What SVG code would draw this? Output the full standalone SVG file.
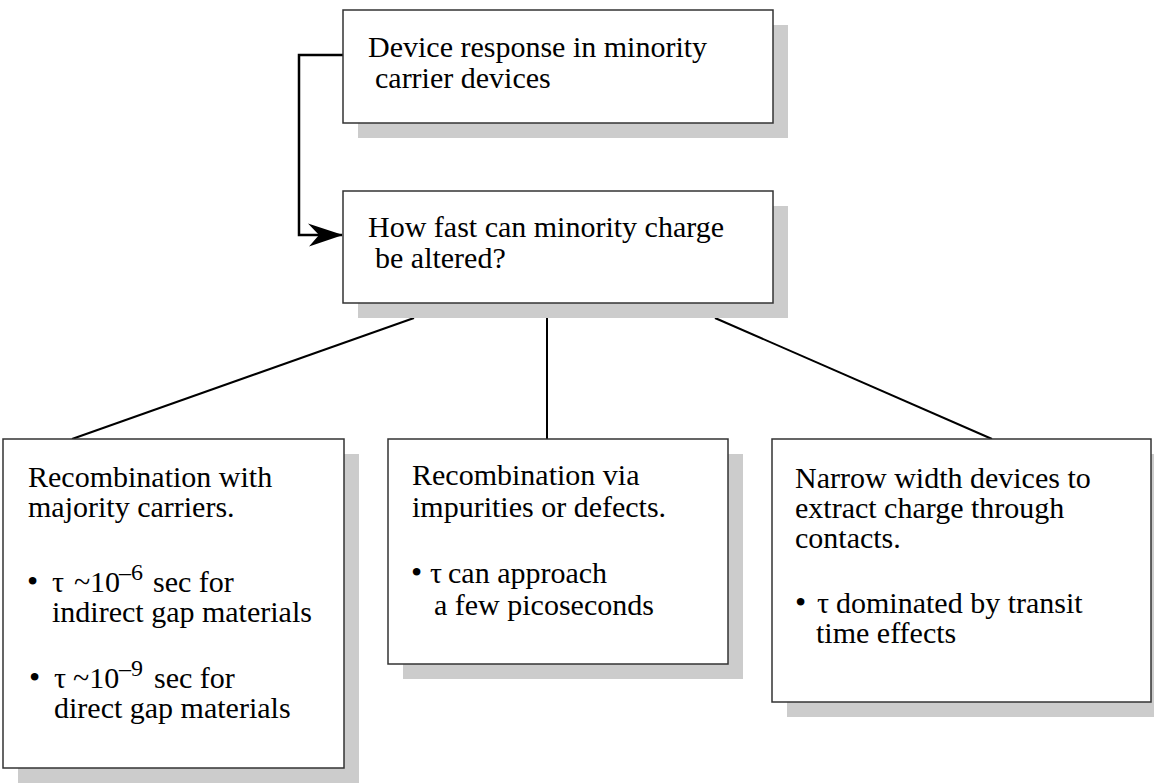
<svg xmlns="http://www.w3.org/2000/svg" width="1154" height="783" viewBox="0 0 1154 783">
<style>
.shadow{fill:#cccccc;stroke:none}
.box{fill:#ffffff;stroke:#333333;stroke-width:1.5}
text{font-family:'Liberation Serif','Times New Roman','DejaVu Serif',serif;font-size:30px;fill:#000000}
text.sup{font-size:24px}
.bul{font-size:32px}
.conn{fill:none;stroke:#000000;stroke-width:2}
.feed{fill:none;stroke:#000000;stroke-width:2.5}
</style>
<defs>
<marker id="arr" viewBox="0 0 36 24" refX="35" refY="12" markerWidth="36" markerHeight="24" markerUnits="userSpaceOnUse" orient="auto">
<path d="M36,12 L1,0.5 L12,12 L2,23.5 Z" fill="#000000"/>
</marker>
</defs>
<rect width="1154" height="783" fill="#ffffff"/>
<g id="connectors">
<path class="feed" d="M343,55 L299,55 L299,235 L342,235" marker-end="url(#arr)"/>
<line class="conn" x1="414" y1="318" x2="72" y2="439"/>
<line class="conn" x1="547" y1="318" x2="547" y2="439"/>
<line class="conn" x1="715" y1="318" x2="992" y2="439"/>
</g>
<g id="node-device-response">
<rect class="shadow" x="358" y="25" width="430" height="113"/>
<rect class="box" x="343" y="10" width="430" height="113"/>
<text x="368" y="57">Device response in minority</text>
<text x="375" y="88">carrier devices</text>
</g>
<g id="node-how-fast">
<rect class="shadow" x="358" y="206" width="430" height="112"/>
<rect class="box" x="343" y="191" width="430" height="112"/>
<text x="368" y="237">How fast can minority charge</text>
<text x="375" y="268">be altered?</text>
</g>
<g id="node-majority">
<rect class="shadow" x="18" y="454" width="341" height="329"/>
<rect class="box" x="3" y="439" width="341" height="329"/>
<text x="28" y="487">Recombination with</text>
<text x="28" y="517">majority carriers.</text>
<text x="27" y="592"><tspan class="bul">•</tspan><tspan x="52">τ</tspan><tspan x="74">~</tspan><tspan x="90">10</tspan></text>
<text class="sup" x="119" y="580">–6</text>
<text x="153" y="592">sec for</text>
<text x="52" y="622">indirect gap materials</text>
<text x="29" y="688"><tspan class="bul">•</tspan><tspan x="54">τ</tspan><tspan x="73">~10</tspan></text>
<text class="sup" x="119" y="676">–9</text>
<text x="154" y="688">sec for</text>
<text x="54" y="718">direct gap materials</text>
</g>
<g id="node-impurities">
<rect class="shadow" x="403" y="454" width="340" height="225"/>
<rect class="box" x="388" y="439" width="340" height="225"/>
<text x="412" y="485">Recombination via</text>
<text x="412" y="517">impurities or defects.</text>
<text x="411" y="583"><tspan class="bul">•</tspan><tspan x="430">τ</tspan><tspan x="448">can approach</tspan></text>
<text x="434" y="615">a few picoseconds</text>
</g>
<g id="node-narrow">
<rect class="shadow" x="787" y="454" width="379" height="263"/>
<rect class="box" x="772" y="439" width="379" height="263"/>
<text x="795" y="488">Narrow width devices to</text>
<text x="795" y="518">extract charge through</text>
<text x="795" y="548">contacts.</text>
<text x="795" y="613"><tspan class="bul">•</tspan><tspan x="817">τ</tspan><tspan x="836">dominated by transit</tspan></text>
<text x="816" y="643">time effects</text>
</g>
</svg>
